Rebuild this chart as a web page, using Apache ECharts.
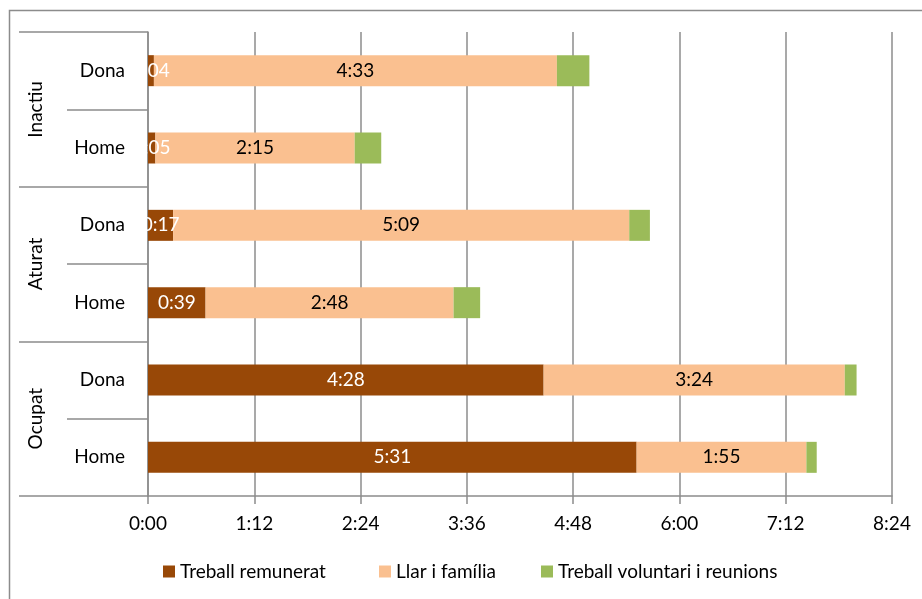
<!DOCTYPE html>
<html><head><meta charset="utf-8">
<script src="https://cdn.jsdelivr.net/npm/echarts@6/dist/echarts.min.js"></script>
<style>html,body{margin:0;padding:0;background:#fff}#c{width:922px;height:599px}</style>
</head><body><div id="c"></div>
<script>
// Categories bottom-to-top
const subCats = ['Home','Dona','Home','Dona','Home','Dona'];
const groups = ['Ocupat','Aturat','Inactiu'];
const seriesNames = ['Treball remunerat','Llar i família','Treball voluntari i reunions'];
// values in minutes
const paid = [331, 268, 39, 17, 5, 4];
const household = [115, 204, 168, 309, 135, 273];
const volunteer = [7, 8, 18, 14, 18, 22];
const xTicksMin = 0, xTicksMax = 504, xTickStep = 72;

function fmt(m){ m=Math.round(m); const h=Math.floor(m/60), mm=m%60; return h+':'+(mm<10?'0':'')+mm; }
const FONT = 'Lato, "Open Sans", sans-serif';
const FS = 19;
const gridColor = '#8c8c8c';
const legendLefts = [163, 379, 541];
const chart = echarts.init(document.getElementById('c'));
chart.setOption({
  animation:false,
  textStyle:{fontFamily:FONT},
  grid:{left:148,right:30,top:32,bottom:103,containLabel:false},
  legend:seriesNames.map((n,i)=>({top:562,left:legendLefts[i],padding:0,itemWidth:12,itemHeight:12,icon:'rect',
    textStyle:{fontFamily:FONT,fontSize:FS,color:'#000'},data:[n]})),
  xAxis:{type:'value',min:xTicksMin,max:xTicksMax,interval:xTickStep,
    axisLine:{show:true,lineStyle:{color:gridColor,width:1.5}},
    axisTick:{show:true,length:8,lineStyle:{color:gridColor,width:1.5}},
    splitLine:{show:true,lineStyle:{color:gridColor,width:1.5}},
    axisLabel:{formatter:fmt,fontSize:FS,color:'#000',margin:18,fontFamily:FONT}},
  yAxis:[{type:'category',data:subCats,position:'left',
    axisLine:{show:true,lineStyle:{color:gridColor,width:1.5}},
    axisTick:{show:true,length:81,lineStyle:{color:gridColor,width:1.5}},
    axisLabel:{fontSize:FS,color:'#000',margin:23,align:'right',fontFamily:FONT}},
   {type:'category',data:groups,position:'left',
    axisLine:{show:false},
    axisTick:{show:true,length:129,lineStyle:{color:gridColor,width:1.5}},
    axisLabel:{fontSize:FS,color:'#000',margin:112,rotate:90,align:'center',verticalAlign:'middle',fontFamily:FONT}}],
  graphic:[{type:'rect',shape:{x:9.5,y:10.5,width:930,height:600},style:{fill:'none',stroke:'#8c8c8c',lineWidth:1.5},silent:true,z:-1}],
  series:[
    {name:seriesNames[0],type:'bar',stack:'t',barWidth:31,data:paid,itemStyle:{color:'#984807'},
     label:{show:true,position:'inside',formatter:p=>fmt(p.value),color:'#fff',fontSize:FS,fontFamily:FONT}},
    {name:seriesNames[1],type:'bar',stack:'t',barWidth:31,data:household,itemStyle:{color:'#FAC090'},
     label:{show:true,position:'inside',formatter:p=>fmt(p.value),color:'#000',fontSize:FS,fontFamily:FONT}},
    {name:seriesNames[2],type:'bar',stack:'t',barWidth:31,data:volunteer,itemStyle:{color:'#9BBB59'}}
  ]
});
</script></body></html>
